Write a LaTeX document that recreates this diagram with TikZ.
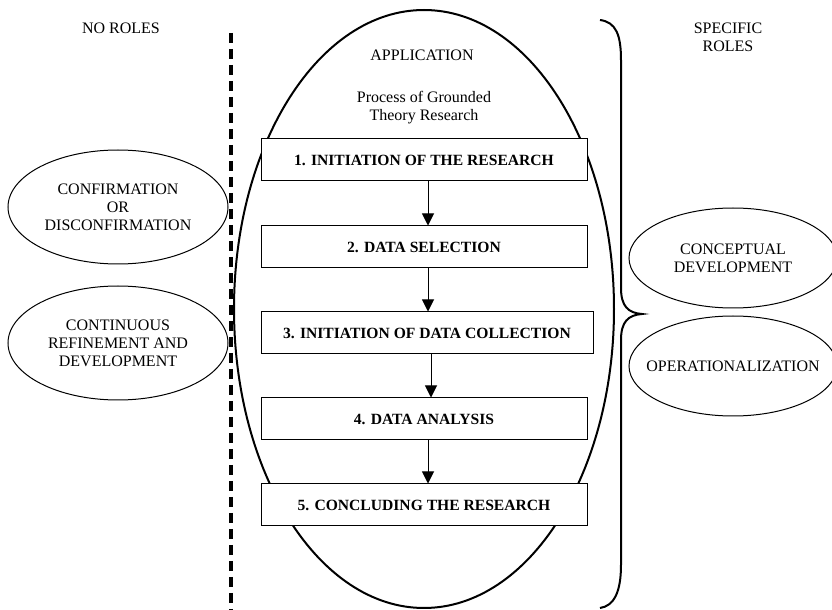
\documentclass[tikz,border=0pt]{standalone}
\usepackage{fontspec}
\setmainfont{Liberation Serif}
\usetikzlibrary{shapes.geometric,arrows.meta}
\begin{document}
\begin{tikzpicture}[x=.5pt, y=-.5pt, font=\fontsize{8}{9}\selectfont,
  oval/.style={draw, ellipse, line width=.5pt, inner sep=0pt, align=center,
    minimum width=110pt, minimum height=57pt},
  stage/.style={draw, fill=white, line width=.5pt, inner sep=0pt,
    minimum width=163pt, minimum height=21pt,
    font=\fontsize{7.8}{9}\selectfont\bfseries},
  flow/.style={-{Triangle[length=6pt, width=6pt]}, line width=.5pt}]
  \useasboundingbox (0,0) rectangle (832,610);
  % the two sides
  \node (noroles) at (121,28) {NO ROLES};
  \node[align=center] (specific) at (728,37) {SPECIFIC\\ROLES};
  \draw[line width=1.7pt, dash pattern=on 5pt off 3pt] (231,33) -- (231,610);
  \node[oval] (confirm) at (118,207) {CONFIRMATION\\OR\\DISCONFIRMATION};
  \node[oval] (refine) at (118,343) {CONTINUOUS\\REFINEMENT AND\\DEVELOPMENT};
  \node[oval, minimum width=104pt, minimum height=50pt] (concept) at (733,258)
    {CONCEPTUAL\\DEVELOPMENT};
  \node[oval, minimum width=104pt, minimum height=50pt, inner xsep=-12pt] (oper)
    at (733,366) {OPERATIONALIZATION};
  \draw[line width=1pt] (600,20) .. controls (616,22) and (621,35) .. (621,60)
    -- (621,288) .. controls (621,306) and (628,313) .. (642,314)
    .. controls (628,315) and (621,322) .. (621,340)
    -- (621,565) .. controls (621,592) and (614,606) .. (600,608);
  % application
  \node[draw, ellipse, line width=1pt, minimum width=190pt, minimum height=299pt]
    (app) at (424,309) {};
  \node (apptitle) at (422,55) {APPLICATION};
  \node[align=center] (process) at (424,108) {Process of Grounded\\Theory Research};
  \node[stage] (b1) at (424,160) {1. INITIATION OF THE RESEARCH};
  \node[stage] (b2) at (424,247) {2. DATA SELECTION};
  \node[stage, minimum width=166pt] (b3) at (427,333) {3. INITIATION OF DATA COLLECTION};
  \node[stage] (b4) at (424,419) {4. DATA ANALYSIS};
  \node[stage] (b5) at (424,505) {5. CONCLUDING THE RESEARCH};
  \foreach \a/\b in {b1/b2,b2/b3,b3/b4,b4/b5}
    \draw[flow] ([xshift=2pt]\a.south) -- ([xshift=2pt]\a.south |- \b.north);
\end{tikzpicture}
\end{document}
